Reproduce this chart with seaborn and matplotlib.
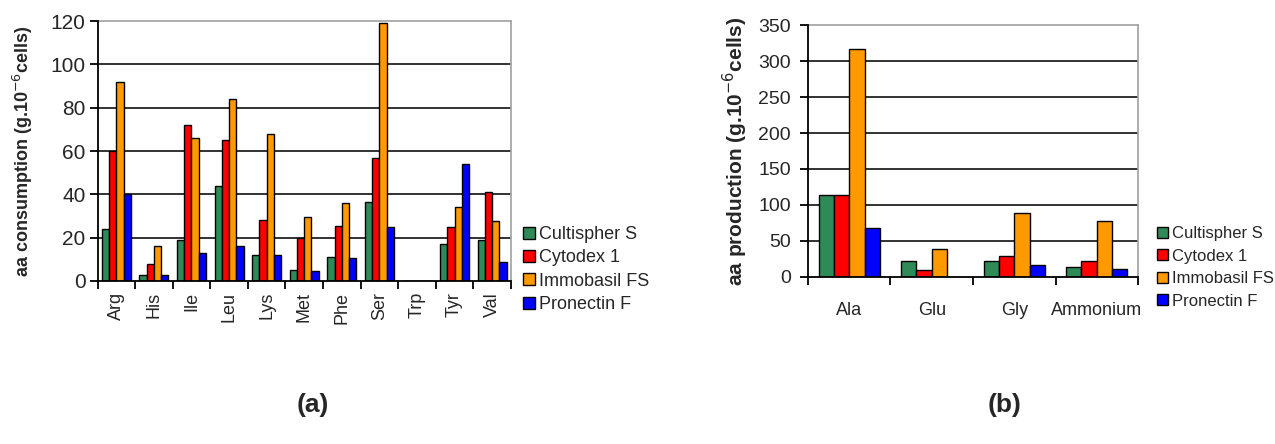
import matplotlib
matplotlib.use("Agg")
import matplotlib.pyplot as plt
from matplotlib.patches import Patch
import numpy as np
import pandas as pd
import seaborn as sns

# ---- data -------------------------------------------------------------
carriers = ["Cultispher S", "Cytodex 1", "Immobasil FS", "Pronectin F"]
colors = ["#2E8B57", "#FF0000", "#FF9900", "#0000FF"]

consumed_aa = ["Arg", "His", "Ile", "Leu", "Lys", "Met", "Phe", "Ser", "Trp", "Tyr", "Val"]
cons_cultispher = [24, 3, 19, 44, 12, 5, 11, 36.5, 0, 17, 19]
cons_cytodex = [60, 8, 72, 65, 28, 20, 25.5, 57, 0, 25, 41]
cons_immobasil = [92, 16, 66, 84, 68, 29.5, 36, 119, 0, 34, 27.5]
cons_pronectin = [40, 3, 13, 16, 12, 4.5, 10.5, 25, 0, 54, 9]

produced = ["Ala", "Glu", "Gly", "Ammonium"]
prod_cultispher = [113, 22, 22, 13]
prod_cytodex = [113, 9, 29, 22]
prod_immobasil = [317, 39, 89, 78]
prod_pronectin = [68, 0, 16, 11]


def long_table(cats, series):
    rows = []
    for name, vals in zip(carriers, series):
        for c, v in zip(cats, vals):
            rows.append({"cat": c, "carrier": name, "value": v})
    return pd.DataFrame(rows)


df_a = long_table(consumed_aa, [cons_cultispher, cons_cytodex, cons_immobasil, cons_pronectin])
df_b = long_table(produced, [prod_cultispher, prod_cytodex, prod_immobasil, prod_pronectin])

# ---- figure -----------------------------------------------------------
sns.set_theme(style="white")
plt.rcParams["font.family"] = ["Liberation Sans", "DejaVu Sans"]

W, H = 1275, 444
fig = plt.figure(figsize=(W / 100, H / 100), dpi=100)


def px_axes(x0, x1, ytop, ybot):
    return fig.add_axes([x0 / W, 1 - ybot / H, (x1 - x0) / W, (ybot - ytop) / H])


ax_a = px_axes(97.5, 511, 21, 281)
ax_b = px_axes(808, 1138, 25.5, 276.5)


def style_axis(ax, df, cats, width, ymax, ystep, ylabel, label_x, label_fs,
               xrot, xfs, xpad, yfs, ypad):
    sns.barplot(data=df, x="cat", y="value", hue="carrier", order=cats,
                hue_order=carriers, palette=colors, width=width,
                edgecolor="black", linewidth=1.0, saturation=1, ax=ax,
                errorbar=None, zorder=3)
    ax.get_legend().remove()
    n = len(cats)
    ax.set_xlim(-0.5, n - 0.5)
    ax.set_ylim(0, ymax)
    ax.set_yticks(np.arange(0, ymax + 1, ystep))
    for y in np.arange(ystep, ymax, ystep):
        ax.axhline(y, color="#222222", lw=1.3, zorder=1)
    for side in ("top", "right"):
        ax.spines[side].set_color("#a0a0a0")
        ax.spines[side].set_linewidth(1.2)
    for side in ("left", "bottom"):
        ax.spines[side].set_color("black")
        ax.spines[side].set_linewidth(1.3)
        ax.spines[side].set_zorder(4)
    ax.tick_params(axis="y", which="major", direction="out", length=5.5, width=1.3,
                   color="black", left=True, labelsize=yfs, pad=ypad)
    ax.set_xticks(np.arange(-0.5, n, 1.0), minor=True)
    ax.tick_params(axis="x", which="minor", direction="out", length=6, width=1.3,
                   color="black", bottom=True)
    ax.tick_params(axis="x", which="major", length=0, labelsize=xfs, pad=xpad)
    for lab in ax.get_xticklabels():
        lab.set_rotation(xrot)
        if xrot:
            lab.set_va("top")
            lab.set_ha("center")
    ax.set_xlabel("")
    ax.set_ylabel(ylabel, fontsize=label_fs, fontweight="bold")
    ax.yaxis.set_label_coords(label_x, 0.5)


style_axis(ax_a, df_a, consumed_aa, 0.77, 120, 20,
           r"aa consumption (g.10$^{-6}$cells)", -0.152, 13,
           90, 13, 8, 15, 3)
style_axis(ax_b, df_b, produced, 0.74, 350, 50,
           r"aa production (g.10$^{-6}$cells)", -0.176, 15,
           0, 13, 18, 14, 7)

handles = [Patch(facecolor=c, edgecolor="black", linewidth=1.0) for c in colors]
for x0, fs, spacing in ((523, 13, 0.35), (1157, 12, 0.45)):
    fig.legend(handles, carriers, loc="upper left",
               bbox_to_anchor=(x0 / W, 1 - 226 / H), frameon=False,
               handlelength=0.65, handleheight=0.65, handletextpad=0.25,
               labelspacing=spacing, fontsize=fs, borderaxespad=0, borderpad=0)

fig.text(313 / W, 1 - 405 / H, "(a)", ha="center", va="center", fontsize=19, fontweight="bold")
fig.text(1005 / W, 1 - 405 / H, "(b)", ha="center", va="center", fontsize=19, fontweight="bold")

fig.savefig("out.png", dpi=100, facecolor="white")
